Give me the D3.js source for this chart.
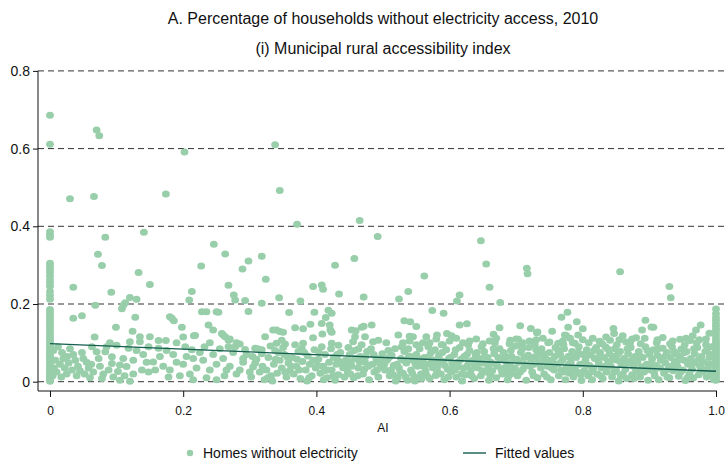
<!DOCTYPE html>
<html>
<head>
<meta charset="utf-8">
<script src="https://cdn.jsdelivr.net/npm/d3@7"></script>
<style>
  html, body { margin: 0; padding: 0; background: #ffffff; }
  svg { display: block; font-family: "Liberation Sans", Arial, Helvetica, sans-serif; }
</style>
</head>
<body>
<svg id="chart" width="728" height="462"></svg>
<script>
// Accessibility index (AI) vs. share of homes without electricity, 2010
const titleText = "A. Percentage of households without electricity access, 2010";
const subtitleText = "(i) Municipal rural accessibility index";
const xAxisLabel = "AI";
const legendLabels = ["Homes without electricity", "Fitted values"];

const xTicks = [0, 0.2, 0.4, 0.6, 0.8, 1.0];
const xTickLabels = ["0", "0.2", "0.4", "0.6", "0.8", "1.0"];
const yTicks = [0, 0.2, 0.4, 0.6, 0.8];
const yTickLabels = ["0", "0.2", "0.4", "0.6", "0.8"];

// municipalities with AI = 0
const zeroAccessShare = [0.686,0.611,0.386,0.378,0.372,0.305,0.298,0.29,0.282,0.272,0.262,0.255,0.246,0.232,0.222,0.212,
  0.186,0.18,0.172,0.165,0.158,0.15,0.143,0.136,0.128,0.12,0.113,0.106,0.1,0.094,0.088,0.082,0.076,0.07,0.064,0.058,
  0.052,0.046,0.04,0.034,0.028,0.022,0.016,0.01,0.005,0.001];

// municipalities with AI = 1
const fullAccessShare = [0.187,0.175,0.165,0.158,0.15,0.143,0.135,0.128,0.12,0.113,0.106,0.1,0.094,0.088,0.082,0.076,
  0.07,0.064,0.058,0.052,0.046,0.04,0.034,0.028,0.022,0.016,0.01,0.004];

// [AI, share] pairs, high-share municipalities
const highSharePoints = [
  [.07,.648],[.074,.633],[.202,.591],[.338,.61],[.03,.471],[.066,.477],[.174,.483],[.345,.492],[.083,.372],[.141,.385],
  [.371,.405],[.465,.415],[.492,.374],[.647,.363],[.655,.303],[.66,.243],[.072,.328],[.078,.299],[.133,.281],[.15,.25],
  [.035,.243],[.092,.23],[.227,.298],[.246,.354],[.263,.329],[.268,.248],[.276,.223],[.278,.21],[.289,.29],[.298,.311],
  [.293,.209],[.318,.323],[.324,.264],[.318,.202],[.344,.216],[.376,.208],[.395,.245],[.408,.249],[.41,.238],[.428,.3],
  [.434,.226],[.457,.317],[.471,.218],[.524,.213],[.538,.232],[.562,.272],[.611,.208],[.615,.223],[.676,.204],[.716,.292],
  [.717,.278],[.856,.283],[.93,.245],[.932,.216],[.213,.232],[.209,.21],[.068,.197],[.11,.197],[.113,.203],[.12,.217],[.13,.212]
];

// [AI, share] pairs, AI below 0.3
const lowAccessPoints = [
  [.035,.163],[.048,.17],[.128,.166],[.108,.188],[.099,.14],[.124,.13],[.067,.115],[.135,.116],[.15,.116],[.12,.103],
  [.135,.103],[.085,.09],[.1,.094],[.118,.086],[.07,.077],[.083,.077],[.148,.09],[.073,.06],[.093,.064],[.093,.047],
  [.105,.043],[.115,.039],[.088,.03],[.102,.026],[.105,.004],[.12,.001],[.075,.04],[.08,.02],[.063,.09],[.11,.06],
  [.125,.055],[.14,.07],[.13,.08],[.145,.05],[.138,.03],[.125,.02],[.112,.015],[.095,.012],[.078,.008],[.148,.025],
  [.09,.1],[.012,.09],[.018,.075],[.02,.06],[.015,.045],[.022,.035],[.01,.025],[.025,.02],[.03,.085],[.035,.07],
  [.038,.055],[.028,.048],[.042,.04],[.045,.028],[.033,.03],[.05,.06],[.048,.075],[.055,.05],[.058,.035],[.04,.015],
  [.052,.02],[.06,.01],[.017,.012],[.008,.055],[.026,.065],[.062,.045],[.065,.025],[.005,.08],[.006,.035],[.004,.015],
  [.163,.106],[.174,.106],[.183,.163],[.186,.157],[.18,.167],[.198,.14],[.216,.118],[.228,.18],[.235,.18],[.25,.18],
  [.253,.179],[.238,.146],[.245,.133],[.203,.09],[.213,.082],[.155,.051],[.158,.03],[.163,.086],[.298,.181],[.26,.12],
  [.263,.116],[.268,.107],[.258,.124],[.27,.11],[.28,.1],[.285,.097],[.218,.119],[.17,.04],[.18,.03],[.19,.05],
  [.2,.045],[.21,.02],[.22,.035],[.23,.055],[.24,.03],[.25,.045],[.26,.06],[.27,.04],[.28,.02],[.29,.05],
  [.205,.065],[.225,.075],[.245,.07],[.255,.085],[.275,.075],[.295,.07],[.165,.065],[.185,.07],[.195,.015],[.215,.06],
  [.235,.01],[.262,.015],[.285,.03],[.3,.025],[.178,.012],[.25,.005],[.278,.09],[.293,.083],[.232,.09],[.268,.09],
  [.24,.1],[.19,.1],[.2,.115],[.29,.06],[.175,.08],[.215,.005],[.265,.03]
];

// [AI, share] pairs, AI 0.3 to 0.52
const midAccessPoints = [
  [.359,.178],[.397,.179],[.418,.184],[.423,.176],[.414,.165],[.335,.133],[.345,.129],[.368,.139],[.38,.136],[.391,.148],
  [.408,.15],[.42,.146],[.421,.133],[.409,.123],[.423,.127],[.395,.113],[.34,.133],[.35,.127],[.323,.116],[.34,.099],
  [.353,.097],[.348,.107],[.38,.099],[.378,.086],[.423,.099],[.433,.094],[.453,.133],[.458,.116],[.455,.103],[.459,.131],
  [.468,.14],[.483,.146],[.473,.116],[.485,.103],[.493,.107],[.463,.084],[.308,.086],[.318,.082],[.471,.143],[.505,.1],
  [.302,.012],[.305,.038],[.31,.058],[.315,.025],[.318,.072],[.308,.048],[.322,.005],
  [.325,.03],[.328,.062],[.332,.015],[.336,.045],[.338,.08],[.341,.022],[.334,.002],
  [.345,.055],[.348,.035],[.352,.07],[.355,.012],[.358,.048],[.36,.028],[.35,.088],
  [.364,.062],[.366,.02],[.37,.04],[.373,.078],[.376,.008],[.379,.052],[.368,.095],
  [.384,.03],[.387,.066],[.39,.045],[.393,.015],[.397,.082],[.399,.035],[.386,.002],
  [.403,.058],[.406,.022],[.41,.04],[.413,.07],[.416,.01],[.419,.05],[.408,.09],
  [.423,.03],[.426,.062],[.43,.045],[.433,.018],[.436,.075],[.44,.036],[.428,.004],
  [.444,.055],[.447,.025],[.45,.07],[.453,.04],[.456,.01],[.459,.06],[.448,.088],
  [.463,.035],[.466,.065],[.47,.02],[.473,.05],[.476,.078],[.479,.005],[.468,.095],
  [.484,.045],[.487,.025],[.49,.06],[.493,.012],[.497,.038],[.499,.072],[.482,.085],
  [.503,.03],[.506,.055],[.51,.015],[.513,.068],[.516,.042],[.519,.002],[.508,.08],
  [.412,.028],[.432,.056],[.452,.052],[.472,.032],[.492,.05],[.512,.03],[.462,.015],[.442,.012],[.402,.042],[.422,.085],
  [.304,.065],[.312,.085],[.319,.04],[.327,.01],[.331,.092],[.339,.058],[.343,.075],[.353,.025],[.357,.062],[.362,.04],
  [.371,.058],[.374,.03],[.382,.075],[.389,.01],[.395,.055],[.404,.075],[.411,.005],[.417,.03],[.425,.015],[.431,.07],
  [.438,.05],[.445,.04],[.451,.02],[.457,.08],[.465,.05],[.474,.065],[.478,.04],[.486,.07],[.491,.03],[.496,.058],
  [.502,.045],[.509,.062],[.515,.018],[.518,.085]
];

// [AI, share] pairs, AI 0.52 to 0.76
const upperAccessPoints = [
  [.574,.183],[.591,.176],[.532,.157],[.541,.154],[.55,.142],[.523,.12],[.54,.117],[.545,.116],[.565,.116],[.581,.12],
  [.596,.124],[.603,.118],[.615,.146],[.626,.149],[.675,.139],[.666,.122],[.706,.144],[.722,.137],[.731,.126],[.754,.13],
  [.691,.107],[.703,.109],[.732,.128],[.7,.11],[.72,.105],[.74,.112],[.66,.105],[.64,.11],[.62,.1],[.6,.105],[.58,.11],
  [.56,.1],[.54,.105],[.57,.1],[.59,.095],[.63,.105],[.65,.098],[.67,.112],[.69,.098],[.71,.1],[.73,.108],[.75,.102],
  [.61,.112],[.53,.1],[.55,.095],
  [.522,.01],[.524,.035],[.527,.06],[.53,.022],[.532,.078],[.535,.048],[.537,.004],[.539,.066],[.528,.09],
  [.542,.03],[.545,.055],[.547,.012],[.55,.07],[.552,.04],[.555,.085],[.557,.02],[.559,.05],[.548,.002],
  [.562,.062],[.564,.028],[.567,.045],[.57,.008],[.572,.075],[.575,.036],[.577,.056],[.579,.016],[.568,.09],
  [.582,.04],[.584,.068],[.587,.02],[.59,.052],[.592,.005],[.595,.082],[.597,.032],[.599,.06],[.588,.095],
  [.602,.025],[.604,.048],[.607,.07],[.61,.012],[.612,.038],[.615,.088],[.617,.058],[.619,.002],[.608,.03],
  [.622,.065],[.624,.018],[.627,.042],[.63,.08],[.632,.03],[.635,.055],[.637,.008],[.639,.07],[.628,.095],
  [.642,.036],[.644,.06],[.647,.015],[.65,.048],[.652,.078],[.655,.025],[.657,.062],[.659,.004],[.648,.09],
  [.662,.05],[.664,.028],[.667,.072],[.67,.01],[.672,.04],[.675,.085],[.677,.058],[.679,.02],[.668,.1],
  [.682,.035],[.684,.065],[.687,.005],[.69,.045],[.692,.08],[.695,.022],[.697,.055],[.699,.092],[.688,.03],
  [.702,.015],[.704,.05],[.707,.075],[.71,.032],[.712,.062],[.715,.004],[.717,.042],[.719,.088],[.708,.098],
  [.722,.058],[.724,.025],[.727,.045],[.73,.082],[.732,.01],[.735,.068],[.737,.035],[.739,.052],[.728,.095],
  [.742,.02],[.744,.06],[.747,.04],[.75,.075],[.752,.005],[.755,.05],[.757,.03],[.759,.088],[.748,.1],
  [.521,.045],[.526,.025],[.531,.055],[.534,.012],[.538,.085],[.541,.065],[.544,.022],[.549,.045],[.553,.06],[.558,.008],
  [.561,.04],[.566,.015],[.569,.065],[.573,.05],[.578,.082],[.581,.028],[.586,.055],[.589,.075],[.593,.042],[.598,.012],
  [.601,.062],[.606,.04],[.609,.082],[.613,.05],[.618,.02],[.621,.035],[.626,.07],[.629,.052],[.633,.015],[.638,.044],
  [.641,.075],[.646,.05],[.649,.028],[.653,.065],[.658,.04],[.661,.018],[.666,.085],[.669,.045],[.673,.062],[.678,.03],
  [.681,.075],[.686,.05],[.689,.015],[.693,.065],[.698,.035],[.701,.058],[.706,.025],[.709,.085],[.713,.045],[.718,.068],
  [.721,.04],[.726,.015],[.729,.065],[.733,.05],[.738,.085],[.741,.072],[.746,.012],[.749,.055],[.753,.035],[.758,.065]
];

// [AI, share] pairs, AI 0.76 to 1
const topAccessPoints = [
  [.768,.166],[.777,.179],[.791,.154],[.8,.136],[.778,.14],[.775,.119],[.773,.12],[.781,.112],[.788,.099],[.763,.099],
  [.793,.12],[.846,.137],[.847,.124],[.841,.107],[.874,.11],[.894,.158],[.906,.14],[.889,.133],[.903,.141],[.893,.112],
  [.946,.109],[.961,.106],[.97,.133],[.977,.146],[.77,.105],[.8,.108],[.815,.112],[.825,.104],[.835,.115],[.855,.108],
  [.86,.118],[.865,.102],[.88,.113],[.912,.108],[.92,.114],[.935,.105],[.955,.112],[.965,.118],[.975,.108],[.985,.095],
  [.762,.045],[.764,.015],[.766,.07],[.768,.03],[.77,.058],[.772,.085],[.774,.005],[.776,.038],[.778,.065],[.78,.022],[.771,.095],
  [.782,.05],[.784,.078],[.786,.012],[.788,.035],[.79,.062],[.792,.025],[.794,.09],[.796,.045],[.798,.003],[.8,.07],[.785,.1],
  [.802,.028],[.804,.055],[.806,.082],[.808,.015],[.81,.042],[.812,.068],[.814,.005],[.816,.035],[.818,.06],[.82,.088],[.809,.1],
  [.822,.02],[.824,.048],[.826,.075],[.828,.035],[.83,.008],[.832,.062],[.834,.09],[.836,.025],[.838,.052],[.84,.072],[.829,.098],
  [.842,.04],[.844,.012],[.846,.065],[.848,.085],[.85,.03],[.852,.055],[.854,.002],[.856,.078],[.858,.045],[.86,.02],[.851,.095],
  [.862,.06],[.864,.032],[.866,.008],[.868,.072],[.87,.048],[.872,.088],[.874,.018],[.876,.04],[.878,.065],[.88,.028],[.871,.1],
  [.882,.05],[.884,.078],[.886,.012],[.888,.038],[.89,.062],[.892,.025],[.894,.09],[.896,.045],[.898,.004],[.9,.07],[.887,.098],
  [.902,.03],[.904,.058],[.906,.082],[.908,.015],[.91,.042],[.912,.068],[.914,.005],[.916,.035],[.918,.06],[.92,.086],[.911,.1],
  [.922,.022],[.924,.048],[.926,.075],[.928,.032],[.93,.01],[.932,.062],[.934,.09],[.936,.028],[.938,.052],[.94,.072],[.931,.098],
  [.942,.04],[.944,.014],[.946,.066],[.948,.084],[.95,.03],[.952,.055],[.954,.003],[.956,.078],[.958,.045],[.96,.02],[.953,.095],
  [.962,.06],[.964,.032],[.966,.01],[.968,.072],[.97,.048],[.972,.088],[.974,.018],[.976,.04],[.978,.065],[.98,.026],[.971,.1],
  [.982,.05],[.984,.078],[.986,.012],[.988,.036],[.99,.062],[.992,.024],[.994,.09],[.996,.045],[.997,.005],[.993,.07],[.985,.11],[.99,.125],
  [.763,.08],[.767,.05],[.773,.025],[.779,.045],[.783,.03],[.787,.065],[.793,.075],[.797,.018],[.803,.045],[.807,.07],
  [.813,.025],[.817,.08],[.823,.062],[.827,.015],[.833,.04],[.837,.085],[.843,.055],[.847,.025],[.853,.072],[.857,.015],
  [.863,.045],[.867,.085],[.873,.055],[.877,.008],[.883,.025],[.887,.065],[.893,.04],[.897,.08],[.903,.045],[.907,.025],
  [.913,.085],[.917,.055],[.923,.065],[.927,.012],[.933,.04],[.937,.078],[.943,.055],[.947,.025],[.953,.075],[.957,.01],
  [.963,.045],[.967,.085],[.973,.055],[.977,.025],[.983,.03],[.987,.085],[.991,.045],[.995,.015]
];

// linear fit endpoints
const fittedAI = [0, 1];
const fittedShare = [0.098, 0.027];

const pointColor = "#98ceaa";
const lineColor = "#155e50";

const svg = d3.select("#chart");
const x = d3.scaleLinear().domain([0, 1]).range([50, 716]);
const y = d3.scaleLinear().domain([0, 0.8]).range([381.7, 70.9]);

// titles
svg.append("text").attr("x", 383).attr("y", 24).attr("text-anchor", "middle")
  .attr("font-size", 16).attr("fill", "#111").text(titleText);
svg.append("text").attr("x", 383).attr("y", 54).attr("text-anchor", "middle")
  .attr("font-size", 16).attr("fill", "#111").text(subtitleText);

// horizontal dashed grid
svg.append("g").selectAll("line").data(yTicks).join("line")
  .attr("x1", 38).attr("x2", 728)
  .attr("y1", d => y(d)).attr("y2", d => y(d))
  .attr("stroke", "#333").attr("stroke-width", 1)
  .attr("stroke-dasharray", "6,4");

// y axis
const yAxis = svg.append("g").attr("transform", "translate(38,0)")
  .call(d3.axisLeft(y).tickValues(yTicks).tickFormat((d, i) => yTickLabels[i]).tickSize(5).tickPadding(3));
yAxis.select(".domain").remove();
yAxis.selectAll("text").attr("font-size", 14).attr("fill", "#111").attr("font-family", "Liberation Sans, Arial, sans-serif");
yAxis.selectAll("line").attr("stroke", "#111");
svg.append("line").attr("x1", 38).attr("x2", 38).attr("y1", y(0.8)).attr("y2", 391).attr("stroke", "#111");

// x axis
const xAxis = svg.append("g").attr("transform", "translate(0,391)")
  .call(d3.axisBottom(x).tickValues(xTicks).tickFormat((d, i) => xTickLabels[i]).tickSize(6).tickPadding(9));
xAxis.select(".domain").remove();
xAxis.selectAll("text").attr("font-size", 12).attr("fill", "#111").attr("font-family", "Liberation Sans, Arial, sans-serif");
xAxis.selectAll("line").attr("stroke", "#111");
svg.append("line").attr("x1", 38).attr("x2", 717).attr("y1", 391).attr("y2", 391).attr("stroke", "#111");

svg.append("text").attr("x", 383).attr("y", 432).attr("text-anchor", "middle")
  .attr("font-size", 12).attr("fill", "#111").text(xAxisLabel);

// scatter
const allPoints = []
  .concat(zeroAccessShare.map(s => [0, s]))
  .concat(fullAccessShare.map(s => [1, s]))
  .concat(highSharePoints, lowAccessPoints, midAccessPoints, upperAccessPoints, topAccessPoints);

svg.append("g").selectAll("ellipse").data(allPoints).join("ellipse")
  .attr("cx", d => x(d[0])).attr("cy", d => y(d[1]))
  .attr("rx", 3.9).attr("ry", 3.5)
  .attr("fill", pointColor);

// fitted line
svg.append("path")
  .datum(fittedAI.map((a, i) => [a, fittedShare[i]]))
  .attr("d", d3.line().x(d => x(d[0])).y(d => y(d[1])))
  .attr("fill", "none").attr("stroke", lineColor).attr("stroke-width", 1.4);

// legend
const legend = svg.append("g");
legend.append("circle").attr("cx", 190).attr("cy", 453).attr("r", 3.2).attr("fill", pointColor);
legend.append("text").attr("x", 203).attr("y", 458).attr("font-size", 14).attr("fill", "#111").text(legendLabels[0]);
legend.append("line").attr("x1", 463).attr("x2", 486).attr("y1", 453).attr("y2", 453)
  .attr("stroke", lineColor).attr("stroke-width", 1.4);
legend.append("text").attr("x", 495).attr("y", 458).attr("font-size", 14).attr("fill", "#111").text(legendLabels[1]);
</script>
</body>
</html>
